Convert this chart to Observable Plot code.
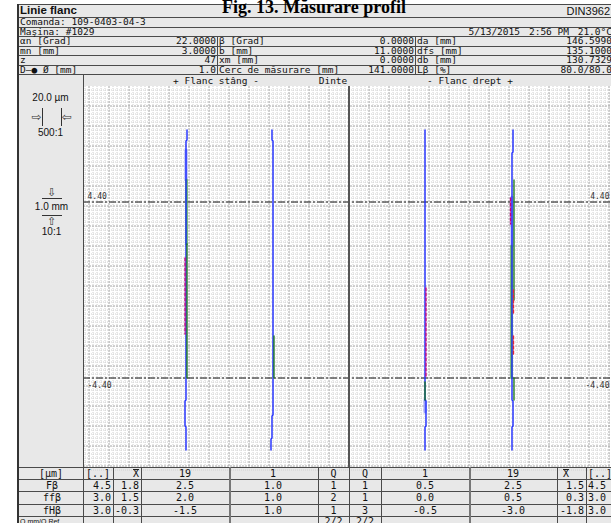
<!DOCTYPE html>
<html><head><meta charset="utf-8">
<script src="https://cdn.jsdelivr.net/npm/d3@7"></script>
<script src="https://cdn.jsdelivr.net/npm/@observablehq/plot@0.6"></script>
<style>
body{margin:0;width:611px;height:523px;overflow:hidden;background:#fff;position:relative;}
#root{position:absolute;left:0;top:0;width:611px;height:523px;overflow:hidden;}
.b{position:absolute;box-sizing:border-box;}
.t{position:absolute;white-space:nowrap;line-height:1;}
</style></head><body><div id="root"></div><script>
// ---------------- data ----------------
const title = "Fig. 13. Măsurare profil";
const reportName = "Linie flanc";
const standard = "DIN3962";
const order = "Comanda: 109-0403-04-3";
const machine = "Maşina: #1029";
const stamp = ["5/13/2015", "2:56 PM", "21.0°C"];
const paramLabels1 = ["αn [Grad]", "mn [mm]", "z", "D—● Ø [mm]"];
const paramValues1 = ["22.0000", "3.0000", "47", "1.0"];
const paramLabels2 = ["β [Grad]", "b [mm]", "xm [mm]", "Cerc de măsurare [mm]"];
const paramValues2 = ["0.0000", "11.0000", "0.0000", "141.0000"];
const paramLabels3 = ["da [mm]", "dfs [mm]", "db [mm]", "Lβ [%]"];
const paramValues3 = ["146.5990", "135.1000", "130.7329", "80.0/80.0"];
const headers = ["+ Flanc stâng -", "Dinte", "- Flanc drept +"];
const limitValues = [4.4, -4.4];
const limitLabels = ["4.40", "-4.40"];

// profile traces: [position mm, deviation µm]
const blueL19 = [[8.0,1],[7.5,1],[7.45,0],[-5.5,0],[-5.55,-1],[-6.8,-1],[-6.85,0],[-8.0,0]];
const blueL1  = [[8.0,-1],[7.5,-1],[7.45,0],[-6.25,0],[-6.3,-1],[-7.4,-1],[-7.45,-2],[-8.0,-2]];
const blueR1  = [[8.0,0],[-5.5,0],[-5.55,1],[-6.8,1],[-6.85,0],[-8.0,0]];
const blueR19 = [[8.0,0],[6.9,0],[6.85,-1],[-5.5,-1],[-5.55,0],[-6.8,0],[-6.85,-1],[-8.0,-1]];
const paleL19 = [[7.0,0],[5.5,0]];
const paleR19 = [[4.65,-1],[2.2,-1]];
const paleR1  = [[-5.5,0],[-6.1,0]];
const greenWideL19 = [[5.5,0.5],[2.3,0.5]];
const greenWideR19 = [[2.2,-1.5],[-4.4,-1.5]];
const greenL19 = [[2.3,1],[-4.4,1]];
const greenL1  = [[-2.3,1],[-4.4,1]];
const greenR1  = [[-4.6,0],[-5.5,0]];
const greenR19a = [[5.5,1],[-0.5,1]];
const greenR19b = [[-4.4,1],[-5.5,1]];
const magL19 = [[1.6,-1],[-2.2,-1]];
const magR1  = [[0.1,1],[-4.4,1]];
const magR19 = [[4.6,-2.5],[3.3,-2.5]];
const redR19a = [[0.0,0.5],[-1.2,0.5]];
const redR19b = [[-2.3,0.5],[-3.2,0.5]];

// result table
const rowLabels = ["Fβ", "ffβ", "fHβ"];
const rangeL = [4.5, 3.0, 3.0];
const meanL = [1.8, 1.5, -0.3];
const tooth19L = [2.5, 2.0, -1.5];
const tooth1L = [1.0, 1.0, 1.0];
const qL = [1, 2, 1];
const qR = [1, 1, 3];
const tooth1R = [0.5, 0.0, -0.5];
const tooth19R = [2.5, 0.5, -3.0];
const meanR = [1.5, 0.3, -1.8];
const rangeR = [4.5, 3.0, 3.0];
const qRatio = ["2/2", "2/2"];

// ---------------- helpers ----------------
const root = document.getElementById("root");
const GRAY = "#e8e8e8", LINE = "#4a4a4a";
const MONO = '"DejaVu Sans Mono", monospace';
const SANS = '"Liberation Sans", Arial, sans-serif';
function B(x, y, w, h, bg) {
  const d = document.createElement("div"); d.className = "b";
  d.style.cssText = `left:${x}px;top:${y}px;width:${w}px;height:${h}px;background:${bg};`;
  root.appendChild(d); return d;
}
function H(x1, x2, y, c = LINE, w = 1) { return B(x1, y, x2 - x1, w, c); }
function V(x, y1, y2, c = LINE, w = 1) { return B(x, y1, w, y2 - y1, c); }
function T(str, x, y, o = {}) {
  const d = document.createElement("div"); d.className = "t"; d.textContent = str;
  const a = o.anchor || "start";
  const tx = a === "middle" ? "-50%" : a === "end" ? "-100%" : "0";
  d.style.cssText = `left:${x}px;top:${y}px;transform:translate(${tx},-50%);font-family:${o.font || MONO};font-size:${o.size || 9.5}px;font-weight:${o.weight || 400};color:${o.color || "#111"};` + (o.extra || "");
  root.appendChild(d); return d;
}

// ---------------- header block ----------------
const rowY = [4, 17, 26.5, 36, 45.5, 55, 64.5, 74, 86];
B(18, 4, 600, 70, GRAY);
B(83, 74, 530, 12, GRAY);
B(18, 74, 66, 393, GRAY);
B(18, 467, 600, 60, GRAY);
rowY.forEach((y, i) => H(i === 8 ? 83 : 18, 611, Math.round(y)));
V(217, 36, 74); V(415, 36, 74);
T(reportName, 20, 10.5, {font: SANS, size: 11.5, weight: 700});
T(standard, 610, 10.5, {font: SANS, size: 11, anchor: "end"});
T(order, 20, 22);
T(machine, 20, 31.5);
T(stamp[0], 520, 31.5, {anchor: "end"});
T(stamp[1], 569, 31.5, {anchor: "end"});
T(stamp[2], 612, 31.5, {anchor: "end"});
paramLabels1.forEach((s, i) => {
  const cy = (rowY[i + 3] + rowY[i + 4]) / 2 + 0.5;
  T(s, 20, cy); T(paramValues1[i], 216, cy, {anchor: "end"});
  T(paramLabels2[i], 219, cy); T(paramValues2[i], 414, cy, {anchor: "end"});
  T(paramLabels3[i], 417, cy); T(paramValues3[i], 612, cy, {anchor: "end"});
});
T(headers[0], 216, 80.5, {anchor: "middle"});
T(headers[1], 333, 80.5, {anchor: "middle"});
T(headers[2], 470, 80.5, {anchor: "middle"});

// title (caption of the figure, cut at the top)
const ts = document.createElementNS("http://www.w3.org/2000/svg", "svg");
ts.setAttribute("width", 611); ts.setAttribute("height", 30);
ts.style.cssText = "position:absolute;left:0;top:0;";
ts.innerHTML = `<text x="314" y="13" text-anchor="middle" font-family="Liberation Serif, serif" font-weight="bold" font-size="18" fill="#000">${title}</text>`;
root.appendChild(ts);

// left legend panel
T("20.0 µm", 50.5, 98, {font: SANS, size: 10, anchor: "middle"});
T("⇨", 36.5, 116.5, {font: '"DejaVu Sans"', size: 12, anchor: "middle", color: "#333"});
T("⇦", 66.5, 116.5, {font: '"DejaVu Sans"', size: 12, anchor: "middle", color: "#333"});
V(42, 108, 126, "#333"); V(61, 108, 126, "#333");
T("500:1", 50.5, 133, {font: SANS, size: 10, anchor: "middle"});
T("⇩", 51.5, 191.5, {font: '"DejaVu Sans"', size: 11, anchor: "middle", color: "#333"});
H(42, 62, 198, "#333");
T("1.0 mm", 51.5, 207, {font: SANS, size: 10, anchor: "middle"});
H(42, 62, 215, "#333");
T("⇧", 51.5, 220.5, {font: '"DejaVu Sans"', size: 11, anchor: "middle", color: "#333"});
T("10:1", 51.5, 231.5, {font: SANS, size: 10, anchor: "middle"});

// ---------------- plot ----------------
const slot = {L19: 102.5, L1: 189.5, R1: 341.5, R19: 429.5};
const traces = [
  ["pale", "L19", paleL19], ["pale", "R19", paleR19], ["pale", "R1", paleR1],
  ["greenWide", "L19", greenWideL19], ["greenWide", "R19", greenWideR19],
  ["blue", "L19", blueL19], ["blue", "L1", blueL1], ["blue", "R1", blueR1], ["blue", "R19", blueR19],
  ["green", "L19", greenL19], ["green", "L1", greenL1], ["green", "R1", greenR1],
  ["green", "R19", greenR19a], ["green", "R19", greenR19b],
  ["mag", "L19", magL19], ["mag", "R1", magR1], ["mag", "R19", magR19],
  ["red", "R19", redR19a], ["red", "R19", redR19b]
];
const rows = [];
traces.forEach(([kind, tooth, pts], k) => pts.forEach(([mm, dev]) => rows.push({kind, tooth, seg: k, mm, dev})));
const styles = {
  pale: {stroke: "#9ea2f7", strokeWidth: 3},
  greenWide: {stroke: "#55a855", strokeWidth: 2.5},
  blue: {stroke: "#1f2dff", strokeWidth: 1.4},
  green: {stroke: "#137313", strokeWidth: 1.3},
  mag: {stroke: "#c4007f", strokeWidth: 1.4, strokeDasharray: "3,2"},
  red: {stroke: "#e0283c", strokeWidth: 1.4, strokeDasharray: "3,2"}
};
const limits = limitValues.map((v, i) => ({v, label: limitLabels[i]}));
const upper = limits.filter(d => d.v > 0), lower = limits.filter(d => d.v < 0);
const labelStyle = {y: "v", text: "label", fontFamily: "DejaVu Sans Mono", fontSize: 8, fill: "#333"};
const W = 528, Hh = 381, yTop = 10.175, yBot = -8.875;
const majorX = d3.range(5.5, W, 20);
const minorX = d3.range(1.5, W, 4).filter((v, i) => (i - 1) % 5 !== 0);
const majorY = d3.range(-1, 18).map(k => +(8.2 - k).toFixed(2));
const minorY = d3.range(0, 96).map(k => +(10.0 - 0.2 * k).toFixed(2)).filter((v, i) => (i - 9) % 5 !== 0);

const chart = Plot.plot({
  width: W, height: Hh, margin: 0,
  x: {domain: [0, W], axis: null},
  y: {domain: [yBot, yTop], axis: null},
  style: {background: "white", overflow: "visible"},
  marks: [
    Plot.ruleX(minorX, {stroke: "#d0d0d0", strokeDasharray: "1,1"}),
    Plot.ruleY(minorY, {stroke: "#d0d0d0", strokeDasharray: "1,1"}),
    Plot.ruleX(majorX, {stroke: "#a6a6a6", strokeDasharray: "2,1"}),
    Plot.ruleY(majorY, {stroke: "#a6a6a6", strokeDasharray: "2,1"}),
    Plot.ruleY(limitValues, {stroke: "#111", strokeWidth: 1.2, strokeDasharray: "7,2,2,2"}),
    Plot.text(upper, {...labelStyle, frameAnchor: "left", textAnchor: "start", dx: 4, dy: -6}),
    Plot.text(upper, {...labelStyle, frameAnchor: "right", textAnchor: "end", dx: -2, dy: -6}),
    Plot.text(lower, {...labelStyle, frameAnchor: "left", textAnchor: "start", dx: 4, dy: 7}),
    Plot.text(lower, {...labelStyle, frameAnchor: "right", textAnchor: "end", dx: -2, dy: 7}),
    ...Object.keys(styles).map(kind => Plot.line(rows.filter(r => r.kind === kind), {
      x: d => slot[d.tooth] + d.dev, y: "mm", z: "seg", ...styles[kind]
    }))
  ]
});
chart.style.position = "absolute";
chart.style.left = "83px";
chart.style.top = "86px";
root.appendChild(chart);
// tooth separator
V(348, 86, 467, "#555", 1.5);

// ---------------- result table ----------------
const tRows = [467, 479, 491, 504, 516];
tRows.forEach(y => H(18, 611, y));
[83, 113, 141, 318, 349, 381, 557, 586].forEach(x => V(x, 467, 523));
[228.5, 468.5].forEach(x => V(x, 467, 523, "#777", 2));
V(83, 74, 467);
V(17, 4, 523, "#333", 2);
const rc = i => (tRows[i] + tRows[i + 1]) / 2 + 0.5;
T("[µm]", 51, rc(0), {anchor: "middle", size: 10});
T("[..]", 98, rc(0), {anchor: "middle", size: 10});
T("X", 139, rc(0), {anchor: "end", size: 10});
H(133, 139, rc(0) - 5, "#222");
T("19", 185, rc(0), {anchor: "middle", size: 10});
T("1", 273, rc(0), {anchor: "middle", size: 10});
T("Q", 333.5, rc(0), {anchor: "middle", size: 10});
T("Q", 365, rc(0), {anchor: "middle", size: 10});
T("1", 425, rc(0), {anchor: "middle", size: 10});
T("19", 513, rc(0), {anchor: "middle", size: 10});
T("X", 563, rc(0), {size: 10});
H(563, 569, rc(0) - 5, "#222");
T("[..]", 588, rc(0), {size: 10});
rowLabels.forEach((s, i) => {
  const y = rc(i + 1), o = {size: 10};
  T(s, 52, y, {...o, anchor: "middle"});
  T(rangeL[i].toFixed(1), 111, y, {...o, anchor: "end"});
  T(meanL[i].toFixed(1), 139, y, {...o, anchor: "end"});
  T(tooth19L[i].toFixed(1), 185, y, {...o, anchor: "middle"});
  T(tooth1L[i].toFixed(1), 273, y, {...o, anchor: "middle"});
  T(String(qL[i]), 333.5, y, {...o, anchor: "middle"});
  T(String(qR[i]), 365, y, {...o, anchor: "middle"});
  T(tooth1R[i].toFixed(1), 425, y, {...o, anchor: "middle"});
  T(tooth19R[i].toFixed(1), 513, y, {...o, anchor: "middle"});
  T(meanR[i].toFixed(1), 584, y, {...o, anchor: "end"});
  T(rangeR[i].toFixed(1), 588, y, o);
});
T("Q.mm/Q.Ref", 20, 520.5, {font: SANS, size: 7});
T(qRatio[0], 333.5, 521.5, {anchor: "middle", size: 10});
T(qRatio[1], 365, 521.5, {anchor: "middle", size: 10});
</script></body></html>
